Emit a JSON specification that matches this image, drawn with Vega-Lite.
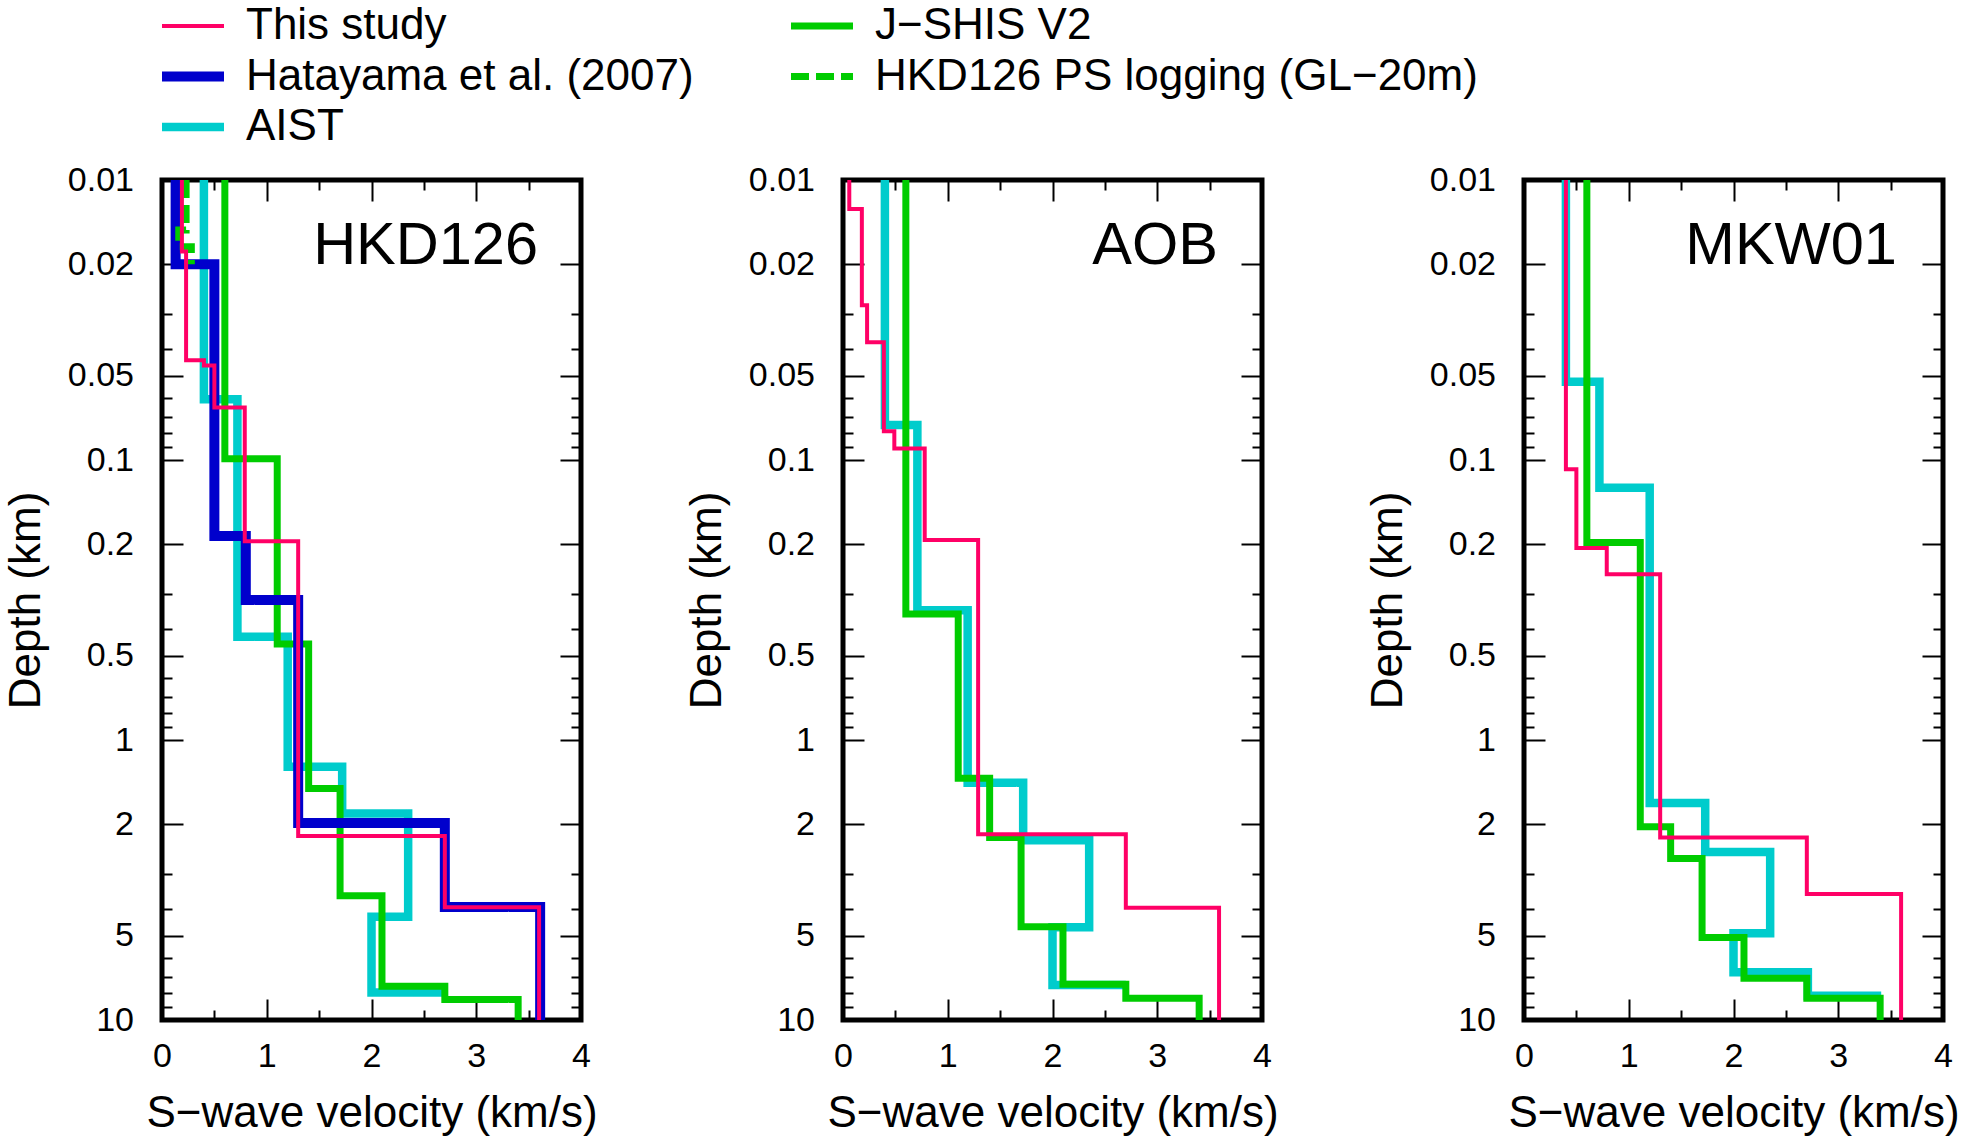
{
  "$schema": "https://vega.github.io/schema/vega-lite/v6.json",
  "background": "white",
  "padding": {"left": 1, "top": 4, "right": 5, "bottom": 0},
  "config": {
    "font": "Liberation Sans",
    "view": {"stroke": "black", "strokeWidth": 5},
    "axis": {"grid": false, "domain": false, "labelColor": "black", "titleColor": "black", "tickColor": "black", "tickWidth": 2, "labelFont": "Liberation Sans", "titleFont": "Liberation Sans", "titleFontWeight": "normal"},
    "legend": {"title": null, "symbolType": "stroke", "symbolSize": 3844, "labelFontSize": 44, "labelFont": "Liberation Sans", "labelColor": "black", "labelOffset": 17, "rowPadding": 6.5, "columnPadding": 92, "labelLimit": 2000, "padding": 0, "clipHeight": 44}
  },
  "data": {"values": [
    {"site": "HKD126", "model": "AIST", "v": 0.40, "d": 0.01},
    {"site": "HKD126", "model": "AIST", "v": 0.72, "d": 0.0607},
    {"site": "HKD126", "model": "AIST", "v": 1.20, "d": 0.428},
    {"site": "HKD126", "model": "AIST", "v": 1.72, "d": 1.245},
    {"site": "HKD126", "model": "AIST", "v": 2.35, "d": 1.83},
    {"site": "HKD126", "model": "AIST", "v": 2.00, "d": 4.28},
    {"site": "HKD126", "model": "AIST", "v": 2.70, "d": 7.97},
    {"site": "HKD126", "model": "J−SHIS V2", "v": 0.60, "d": 0.01},
    {"site": "HKD126", "model": "J−SHIS V2", "v": 1.10, "d": 0.099},
    {"site": "HKD126", "model": "J−SHIS V2", "v": 1.40, "d": 0.454},
    {"site": "HKD126", "model": "J−SHIS V2", "v": 1.70, "d": 1.49},
    {"site": "HKD126", "model": "J−SHIS V2", "v": 2.10, "d": 3.6},
    {"site": "HKD126", "model": "J−SHIS V2", "v": 2.70, "d": 7.57},
    {"site": "HKD126", "model": "J−SHIS V2", "v": 3.40, "d": 8.44},
    {"site": "HKD126", "model": "J−SHIS V2", "v": 3.40, "d": 10},
    {"site": "HKD126", "model": "Hatayama et al. (2007)", "v": 0.13, "d": 0.01},
    {"site": "HKD126", "model": "Hatayama et al. (2007)", "v": 0.50, "d": 0.02},
    {"site": "HKD126", "model": "Hatayama et al. (2007)", "v": 0.80, "d": 0.187},
    {"site": "HKD126", "model": "Hatayama et al. (2007)", "v": 1.30, "d": 0.316},
    {"site": "HKD126", "model": "Hatayama et al. (2007)", "v": 2.70, "d": 1.98},
    {"site": "HKD126", "model": "Hatayama et al. (2007)", "v": 3.61, "d": 3.95},
    {"site": "HKD126", "model": "Hatayama et al. (2007)", "v": 3.61, "d": 10},
    {"site": "HKD126", "model": "HKD126 PS logging (GL−20m)", "v": 0.23, "d": 0.01},
    {"site": "HKD126", "model": "HKD126 PS logging (GL−20m)", "v": 0.16, "d": 0.0151},
    {"site": "HKD126", "model": "HKD126 PS logging (GL−20m)", "v": 0.28, "d": 0.0173},
    {"site": "HKD126", "model": "HKD126 PS logging (GL−20m)", "v": 0.28, "d": 0.02},
    {"site": "HKD126", "model": "This study", "v": 0.19, "d": 0.01},
    {"site": "HKD126", "model": "This study", "v": 0.23, "d": 0.018},
    {"site": "HKD126", "model": "This study", "v": 0.40, "d": 0.044},
    {"site": "HKD126", "model": "This study", "v": 0.50, "d": 0.046},
    {"site": "HKD126", "model": "This study", "v": 0.79, "d": 0.065},
    {"site": "HKD126", "model": "This study", "v": 1.30, "d": 0.195},
    {"site": "HKD126", "model": "This study", "v": 2.70, "d": 2.2},
    {"site": "HKD126", "model": "This study", "v": 3.60, "d": 3.96},
    {"site": "HKD126", "model": "This study", "v": 3.60, "d": 10},
    {"site": "AOB", "model": "AIST", "v": 0.40, "d": 0.01},
    {"site": "AOB", "model": "AIST", "v": 0.71, "d": 0.075},
    {"site": "AOB", "model": "AIST", "v": 1.19, "d": 0.344},
    {"site": "AOB", "model": "AIST", "v": 1.72, "d": 1.42},
    {"site": "AOB", "model": "AIST", "v": 2.35, "d": 2.28},
    {"site": "AOB", "model": "AIST", "v": 2.00, "d": 4.66},
    {"site": "AOB", "model": "AIST", "v": 2.70, "d": 7.5},
    {"site": "AOB", "model": "J−SHIS V2", "v": 0.60, "d": 0.01},
    {"site": "AOB", "model": "J−SHIS V2", "v": 1.10, "d": 0.355},
    {"site": "AOB", "model": "J−SHIS V2", "v": 1.40, "d": 1.37},
    {"site": "AOB", "model": "J−SHIS V2", "v": 1.70, "d": 2.23},
    {"site": "AOB", "model": "J−SHIS V2", "v": 2.10, "d": 4.64},
    {"site": "AOB", "model": "J−SHIS V2", "v": 2.70, "d": 7.46},
    {"site": "AOB", "model": "J−SHIS V2", "v": 3.40, "d": 8.37},
    {"site": "AOB", "model": "J−SHIS V2", "v": 3.40, "d": 10},
    {"site": "AOB", "model": "This study", "v": 0.06, "d": 0.01},
    {"site": "AOB", "model": "This study", "v": 0.18, "d": 0.0127},
    {"site": "AOB", "model": "This study", "v": 0.23, "d": 0.028},
    {"site": "AOB", "model": "This study", "v": 0.39, "d": 0.038},
    {"site": "AOB", "model": "This study", "v": 0.49, "d": 0.079},
    {"site": "AOB", "model": "This study", "v": 0.78, "d": 0.091},
    {"site": "AOB", "model": "This study", "v": 1.29, "d": 0.193},
    {"site": "AOB", "model": "This study", "v": 2.70, "d": 2.17},
    {"site": "AOB", "model": "This study", "v": 3.59, "d": 3.97},
    {"site": "AOB", "model": "This study", "v": 3.59, "d": 10},
    {"site": "MKW01", "model": "AIST", "v": 0.40, "d": 0.01},
    {"site": "MKW01", "model": "AIST", "v": 0.72, "d": 0.0525},
    {"site": "MKW01", "model": "AIST", "v": 1.20, "d": 0.1256},
    {"site": "MKW01", "model": "AIST", "v": 1.73, "d": 1.68},
    {"site": "MKW01", "model": "AIST", "v": 2.35, "d": 2.51},
    {"site": "MKW01", "model": "AIST", "v": 2.00, "d": 4.9},
    {"site": "MKW01", "model": "AIST", "v": 2.71, "d": 6.75},
    {"site": "MKW01", "model": "AIST", "v": 3.41, "d": 8.2},
    {"site": "MKW01", "model": "J−SHIS V2", "v": 0.60, "d": 0.01},
    {"site": "MKW01", "model": "J−SHIS V2", "v": 1.11, "d": 0.197},
    {"site": "MKW01", "model": "J−SHIS V2", "v": 1.40, "d": 2.04},
    {"site": "MKW01", "model": "J−SHIS V2", "v": 1.70, "d": 2.65},
    {"site": "MKW01", "model": "J−SHIS V2", "v": 2.10, "d": 5.07},
    {"site": "MKW01", "model": "J−SHIS V2", "v": 2.70, "d": 7.1},
    {"site": "MKW01", "model": "J−SHIS V2", "v": 3.40, "d": 8.37},
    {"site": "MKW01", "model": "J−SHIS V2", "v": 3.40, "d": 10},
    {"site": "MKW01", "model": "This study", "v": 0.40, "d": 0.01},
    {"site": "MKW01", "model": "This study", "v": 0.50, "d": 0.108},
    {"site": "MKW01", "model": "This study", "v": 0.79, "d": 0.206},
    {"site": "MKW01", "model": "This study", "v": 1.30, "d": 0.256},
    {"site": "MKW01", "model": "This study", "v": 2.70, "d": 2.23},
    {"site": "MKW01", "model": "This study", "v": 3.60, "d": 3.55},
    {"site": "MKW01", "model": "This study", "v": 3.60, "d": 10}
  ]},
  "spacing": 262,
  "bounds": "flush",
  "hconcat": [
    {
      "width": 419, "height": 840,
      "transform": [{"filter": {"field": "site", "equal": "HKD126"}}],
      "layer": [
        {
          "encoding": {
            "x": {"field": "v", "type": "quantitative", "scale": {"domain": [0, 4], "nice": false, "zero": false}, "axis": {"orient": "bottom", "values": [0, 1, 2, 3, 4], "ticks": false, "tickSize": 0, "labelFontSize": 34, "labelPadding": 19, "labelFlush": false, "labelOverlap": false, "format": "~g", "title": "S−wave velocity (km/s)", "titleFontSize": 44, "titlePadding": 18}},
            "y": {"field": "d", "type": "quantitative", "scale": {"type": "log", "domain": [0.01, 10], "reverse": true, "nice": false}, "axis": {"orient": "left", "values": [0.01, 0.02, 0.05, 0.1, 0.2, 0.5, 1, 2, 5, 10], "ticks": false, "tickSize": 0, "labelFontSize": 34, "labelPadding": 28.5, "labelFlush": false, "labelOverlap": false, "format": "~g", "title": "Depth (km)", "titleFontSize": 44, "titlePadding": 19}},
            "color": {"field": "model", "type": "nominal", "scale": {"domain": ["This study", "Hatayama et al. (2007)", "AIST", "J−SHIS V2", "HKD126 PS logging (GL−20m)"], "range": ["#ff0066", "#0000cc", "#00cccc", "#00cc00", "#00cc00"]}, "legend": {"title": null, "orient": "none", "legendX": -5, "legendY": -176, "columns": 2}},
            "strokeWidth": {"field": "model", "type": "nominal", "scale": {"type": "ordinal", "domain": ["This study", "Hatayama et al. (2007)", "AIST", "J−SHIS V2", "HKD126 PS logging (GL−20m)"], "range": [4, 10, 8.5, 7, 7]}, "legend": {"title": null, "orient": "none", "legendX": -5, "legendY": -176, "columns": 2}},
            "strokeDash": {"field": "model", "type": "nominal", "scale": {"domain": ["This study", "Hatayama et al. (2007)", "AIST", "J−SHIS V2", "HKD126 PS logging (GL−20m)"], "range": [[1, 0], [1, 0], [1, 0], [1, 0], [18, 7]]}, "legend": {"title": null, "orient": "none", "legendX": -5, "legendY": -176, "columns": 2}},
            "order": {"field": "d", "type": "quantitative"}
          },
          "layer": [
            {"transform": [{"filter": {"field": "model", "equal": "AIST"}}], "mark": {"type": "line", "interpolate": "step-before", "clip": true}},
            {"transform": [{"filter": {"field": "model", "equal": "J−SHIS V2"}}], "mark": {"type": "line", "interpolate": "step-before", "clip": true}},
            {"transform": [{"filter": {"field": "model", "equal": "Hatayama et al. (2007)"}}], "mark": {"type": "line", "interpolate": "step-before", "clip": true}},
            {"transform": [{"filter": {"field": "model", "equal": "HKD126 PS logging (GL−20m)"}}], "mark": {"type": "line", "interpolate": "step-before", "clip": true}},
            {"transform": [{"filter": {"field": "model", "equal": "This study"}}], "mark": {"type": "line", "interpolate": "step-before", "clip": true}}
          ]
        },
        {"mark": {"type": "point", "opacity": 0}, "encoding": {
          "x": {"field": "v", "type": "quantitative", "scale": {"domain": [0, 4], "nice": false, "zero": false}, "axis": {"orient": "bottom", "values": [0, 1, 2, 3, 4], "labels": false, "tickSize": -21, "title": null}},
          "y": {"field": "d", "type": "quantitative", "scale": {"type": "log", "domain": [0.01, 10], "reverse": true, "nice": false}, "axis": {"orient": "left", "values": [0.01, 0.02, 0.05, 0.1, 0.2, 0.5, 1, 2, 5, 10], "labels": false, "tickSize": -21, "title": null}}}},
        {"mark": {"type": "point", "opacity": 0}, "encoding": {
          "x": {"field": "v", "type": "quantitative", "scale": {"domain": [0, 4], "nice": false, "zero": false}, "axis": {"orient": "top", "values": [0, 1, 2, 3, 4], "labels": false, "tickSize": -21, "title": null}},
          "y": {"field": "d", "type": "quantitative", "scale": {"type": "log", "domain": [0.01, 10], "reverse": true, "nice": false}, "axis": {"orient": "right", "values": [0.01, 0.02, 0.05, 0.1, 0.2, 0.5, 1, 2, 5, 10], "labels": false, "tickSize": -21, "title": null}}}},
        {"mark": {"type": "point", "opacity": 0}, "encoding": {
          "x": {"field": "v", "type": "quantitative", "scale": {"domain": [0, 4], "nice": false, "zero": false}, "axis": {"orient": "bottom", "values": [0.5, 1.5, 2.5, 3.5], "labels": false, "tickSize": -10, "title": null}},
          "y": {"field": "d", "type": "quantitative", "scale": {"type": "log", "domain": [0.01, 10], "reverse": true, "nice": false}, "axis": {"orient": "left", "values": [0.03, 0.04, 0.06, 0.07, 0.08, 0.09, 0.3, 0.4, 0.6, 0.7, 0.8, 0.9, 3, 4, 6, 7, 8, 9], "labels": false, "tickSize": -10, "title": null}}}},
        {"mark": {"type": "point", "opacity": 0}, "encoding": {
          "x": {"field": "v", "type": "quantitative", "scale": {"domain": [0, 4], "nice": false, "zero": false}, "axis": {"orient": "top", "values": [0.5, 1.5, 2.5, 3.5], "labels": false, "tickSize": -10, "title": null}},
          "y": {"field": "d", "type": "quantitative", "scale": {"type": "log", "domain": [0.01, 10], "reverse": true, "nice": false}, "axis": {"orient": "right", "values": [0.03, 0.04, 0.06, 0.07, 0.08, 0.09, 0.3, 0.4, 0.6, 0.7, 0.8, 0.9, 3, 4, 6, 7, 8, 9], "labels": false, "tickSize": -10, "title": null}}}},
        {"data": {"values": [{"site": "HKD126", "label": "HKD126"}]}, "mark": {"type": "text", "align": "right", "baseline": "alphabetic", "fontSize": 59.5, "font": "Liberation Sans", "color": "black"}, "encoding": {
          "x": {"datum": 3.59, "type": "quantitative", "axis": null},
          "y": {"datum": 0.02, "type": "quantitative", "axis": null},
          "text": {"field": "label"}}}
      ],
      "resolve": {"axis": {"x": "independent", "y": "independent"}}
    },
    {
      "width": 419, "height": 840,
      "transform": [{"filter": {"field": "site", "equal": "AOB"}}],
      "layer": [
        {
          "encoding": {
            "x": {"field": "v", "type": "quantitative", "scale": {"domain": [0, 4], "nice": false, "zero": false}, "axis": {"orient": "bottom", "values": [0, 1, 2, 3, 4], "ticks": false, "tickSize": 0, "labelFontSize": 34, "labelPadding": 19, "labelFlush": false, "labelOverlap": false, "format": "~g", "title": "S−wave velocity (km/s)", "titleFontSize": 44, "titlePadding": 18}},
            "y": {"field": "d", "type": "quantitative", "scale": {"type": "log", "domain": [0.01, 10], "reverse": true, "nice": false}, "axis": {"orient": "left", "values": [0.01, 0.02, 0.05, 0.1, 0.2, 0.5, 1, 2, 5, 10], "ticks": false, "tickSize": 0, "labelFontSize": 34, "labelPadding": 28.5, "labelFlush": false, "labelOverlap": false, "format": "~g", "title": "Depth (km)", "titleFontSize": 44, "titlePadding": 19}},
            "color": {"field": "model", "type": "nominal", "scale": {"domain": ["This study", "Hatayama et al. (2007)", "AIST", "J−SHIS V2", "HKD126 PS logging (GL−20m)"], "range": ["#ff0066", "#0000cc", "#00cccc", "#00cc00", "#00cc00"]}, "legend": {"title": null, "orient": "none", "legendX": -5, "legendY": -176, "columns": 2}},
            "strokeWidth": {"field": "model", "type": "nominal", "scale": {"type": "ordinal", "domain": ["This study", "Hatayama et al. (2007)", "AIST", "J−SHIS V2", "HKD126 PS logging (GL−20m)"], "range": [4, 10, 8.5, 7, 7]}, "legend": {"title": null, "orient": "none", "legendX": -5, "legendY": -176, "columns": 2}},
            "strokeDash": {"field": "model", "type": "nominal", "scale": {"domain": ["This study", "Hatayama et al. (2007)", "AIST", "J−SHIS V2", "HKD126 PS logging (GL−20m)"], "range": [[1, 0], [1, 0], [1, 0], [1, 0], [18, 7]]}, "legend": {"title": null, "orient": "none", "legendX": -5, "legendY": -176, "columns": 2}},
            "order": {"field": "d", "type": "quantitative"}
          },
          "layer": [
            {"transform": [{"filter": {"field": "model", "equal": "AIST"}}], "mark": {"type": "line", "interpolate": "step-before", "clip": true}},
            {"transform": [{"filter": {"field": "model", "equal": "J−SHIS V2"}}], "mark": {"type": "line", "interpolate": "step-before", "clip": true}},
            {"transform": [{"filter": {"field": "model", "equal": "This study"}}], "mark": {"type": "line", "interpolate": "step-before", "clip": true}}
          ]
        },
        {"mark": {"type": "point", "opacity": 0}, "encoding": {
          "x": {"field": "v", "type": "quantitative", "scale": {"domain": [0, 4], "nice": false, "zero": false}, "axis": {"orient": "bottom", "values": [0, 1, 2, 3, 4], "labels": false, "tickSize": -21, "title": null}},
          "y": {"field": "d", "type": "quantitative", "scale": {"type": "log", "domain": [0.01, 10], "reverse": true, "nice": false}, "axis": {"orient": "left", "values": [0.01, 0.02, 0.05, 0.1, 0.2, 0.5, 1, 2, 5, 10], "labels": false, "tickSize": -21, "title": null}}}},
        {"mark": {"type": "point", "opacity": 0}, "encoding": {
          "x": {"field": "v", "type": "quantitative", "scale": {"domain": [0, 4], "nice": false, "zero": false}, "axis": {"orient": "top", "values": [0, 1, 2, 3, 4], "labels": false, "tickSize": -21, "title": null}},
          "y": {"field": "d", "type": "quantitative", "scale": {"type": "log", "domain": [0.01, 10], "reverse": true, "nice": false}, "axis": {"orient": "right", "values": [0.01, 0.02, 0.05, 0.1, 0.2, 0.5, 1, 2, 5, 10], "labels": false, "tickSize": -21, "title": null}}}},
        {"mark": {"type": "point", "opacity": 0}, "encoding": {
          "x": {"field": "v", "type": "quantitative", "scale": {"domain": [0, 4], "nice": false, "zero": false}, "axis": {"orient": "bottom", "values": [0.5, 1.5, 2.5, 3.5], "labels": false, "tickSize": -10, "title": null}},
          "y": {"field": "d", "type": "quantitative", "scale": {"type": "log", "domain": [0.01, 10], "reverse": true, "nice": false}, "axis": {"orient": "left", "values": [0.03, 0.04, 0.06, 0.07, 0.08, 0.09, 0.3, 0.4, 0.6, 0.7, 0.8, 0.9, 3, 4, 6, 7, 8, 9], "labels": false, "tickSize": -10, "title": null}}}},
        {"mark": {"type": "point", "opacity": 0}, "encoding": {
          "x": {"field": "v", "type": "quantitative", "scale": {"domain": [0, 4], "nice": false, "zero": false}, "axis": {"orient": "top", "values": [0.5, 1.5, 2.5, 3.5], "labels": false, "tickSize": -10, "title": null}},
          "y": {"field": "d", "type": "quantitative", "scale": {"type": "log", "domain": [0.01, 10], "reverse": true, "nice": false}, "axis": {"orient": "right", "values": [0.03, 0.04, 0.06, 0.07, 0.08, 0.09, 0.3, 0.4, 0.6, 0.7, 0.8, 0.9, 3, 4, 6, 7, 8, 9], "labels": false, "tickSize": -10, "title": null}}}},
        {"data": {"values": [{"site": "AOB", "label": "AOB"}]}, "mark": {"type": "text", "align": "right", "baseline": "alphabetic", "fontSize": 59.5, "font": "Liberation Sans", "color": "black"}, "encoding": {
          "x": {"datum": 3.58, "type": "quantitative", "axis": null},
          "y": {"datum": 0.02, "type": "quantitative", "axis": null},
          "text": {"field": "label"}}}
      ],
      "resolve": {"axis": {"x": "independent", "y": "independent"}}
    },
    {
      "width": 419, "height": 840,
      "transform": [{"filter": {"field": "site", "equal": "MKW01"}}],
      "layer": [
        {
          "encoding": {
            "x": {"field": "v", "type": "quantitative", "scale": {"domain": [0, 4], "nice": false, "zero": false}, "axis": {"orient": "bottom", "values": [0, 1, 2, 3, 4], "ticks": false, "tickSize": 0, "labelFontSize": 34, "labelPadding": 19, "labelFlush": false, "labelOverlap": false, "format": "~g", "title": "S−wave velocity (km/s)", "titleFontSize": 44, "titlePadding": 18}},
            "y": {"field": "d", "type": "quantitative", "scale": {"type": "log", "domain": [0.01, 10], "reverse": true, "nice": false}, "axis": {"orient": "left", "values": [0.01, 0.02, 0.05, 0.1, 0.2, 0.5, 1, 2, 5, 10], "ticks": false, "tickSize": 0, "labelFontSize": 34, "labelPadding": 28.5, "labelFlush": false, "labelOverlap": false, "format": "~g", "title": "Depth (km)", "titleFontSize": 44, "titlePadding": 19}},
            "color": {"field": "model", "type": "nominal", "scale": {"domain": ["This study", "Hatayama et al. (2007)", "AIST", "J−SHIS V2", "HKD126 PS logging (GL−20m)"], "range": ["#ff0066", "#0000cc", "#00cccc", "#00cc00", "#00cc00"]}, "legend": {"title": null, "orient": "none", "legendX": -5, "legendY": -176, "columns": 2}},
            "strokeWidth": {"field": "model", "type": "nominal", "scale": {"type": "ordinal", "domain": ["This study", "Hatayama et al. (2007)", "AIST", "J−SHIS V2", "HKD126 PS logging (GL−20m)"], "range": [4, 10, 8.5, 7, 7]}, "legend": {"title": null, "orient": "none", "legendX": -5, "legendY": -176, "columns": 2}},
            "strokeDash": {"field": "model", "type": "nominal", "scale": {"domain": ["This study", "Hatayama et al. (2007)", "AIST", "J−SHIS V2", "HKD126 PS logging (GL−20m)"], "range": [[1, 0], [1, 0], [1, 0], [1, 0], [18, 7]]}, "legend": {"title": null, "orient": "none", "legendX": -5, "legendY": -176, "columns": 2}},
            "order": {"field": "d", "type": "quantitative"}
          },
          "layer": [
            {"transform": [{"filter": {"field": "model", "equal": "AIST"}}], "mark": {"type": "line", "interpolate": "step-before", "clip": true}},
            {"transform": [{"filter": {"field": "model", "equal": "J−SHIS V2"}}], "mark": {"type": "line", "interpolate": "step-before", "clip": true}},
            {"transform": [{"filter": {"field": "model", "equal": "This study"}}], "mark": {"type": "line", "interpolate": "step-before", "clip": true}}
          ]
        },
        {"mark": {"type": "point", "opacity": 0}, "encoding": {
          "x": {"field": "v", "type": "quantitative", "scale": {"domain": [0, 4], "nice": false, "zero": false}, "axis": {"orient": "bottom", "values": [0, 1, 2, 3, 4], "labels": false, "tickSize": -21, "title": null}},
          "y": {"field": "d", "type": "quantitative", "scale": {"type": "log", "domain": [0.01, 10], "reverse": true, "nice": false}, "axis": {"orient": "left", "values": [0.01, 0.02, 0.05, 0.1, 0.2, 0.5, 1, 2, 5, 10], "labels": false, "tickSize": -21, "title": null}}}},
        {"mark": {"type": "point", "opacity": 0}, "encoding": {
          "x": {"field": "v", "type": "quantitative", "scale": {"domain": [0, 4], "nice": false, "zero": false}, "axis": {"orient": "top", "values": [0, 1, 2, 3, 4], "labels": false, "tickSize": -21, "title": null}},
          "y": {"field": "d", "type": "quantitative", "scale": {"type": "log", "domain": [0.01, 10], "reverse": true, "nice": false}, "axis": {"orient": "right", "values": [0.01, 0.02, 0.05, 0.1, 0.2, 0.5, 1, 2, 5, 10], "labels": false, "tickSize": -21, "title": null}}}},
        {"mark": {"type": "point", "opacity": 0}, "encoding": {
          "x": {"field": "v", "type": "quantitative", "scale": {"domain": [0, 4], "nice": false, "zero": false}, "axis": {"orient": "bottom", "values": [0.5, 1.5, 2.5, 3.5], "labels": false, "tickSize": -10, "title": null}},
          "y": {"field": "d", "type": "quantitative", "scale": {"type": "log", "domain": [0.01, 10], "reverse": true, "nice": false}, "axis": {"orient": "left", "values": [0.03, 0.04, 0.06, 0.07, 0.08, 0.09, 0.3, 0.4, 0.6, 0.7, 0.8, 0.9, 3, 4, 6, 7, 8, 9], "labels": false, "tickSize": -10, "title": null}}}},
        {"mark": {"type": "point", "opacity": 0}, "encoding": {
          "x": {"field": "v", "type": "quantitative", "scale": {"domain": [0, 4], "nice": false, "zero": false}, "axis": {"orient": "top", "values": [0.5, 1.5, 2.5, 3.5], "labels": false, "tickSize": -10, "title": null}},
          "y": {"field": "d", "type": "quantitative", "scale": {"type": "log", "domain": [0.01, 10], "reverse": true, "nice": false}, "axis": {"orient": "right", "values": [0.03, 0.04, 0.06, 0.07, 0.08, 0.09, 0.3, 0.4, 0.6, 0.7, 0.8, 0.9, 3, 4, 6, 7, 8, 9], "labels": false, "tickSize": -10, "title": null}}}},
        {"data": {"values": [{"site": "MKW01", "label": "MKW01"}]}, "mark": {"type": "text", "align": "right", "baseline": "alphabetic", "fontSize": 59.5, "font": "Liberation Sans", "color": "black"}, "encoding": {
          "x": {"datum": 3.56, "type": "quantitative", "axis": null},
          "y": {"datum": 0.02, "type": "quantitative", "axis": null},
          "text": {"field": "label"}}}
      ],
      "resolve": {"axis": {"x": "independent", "y": "independent"}}
    }
  ]
}
